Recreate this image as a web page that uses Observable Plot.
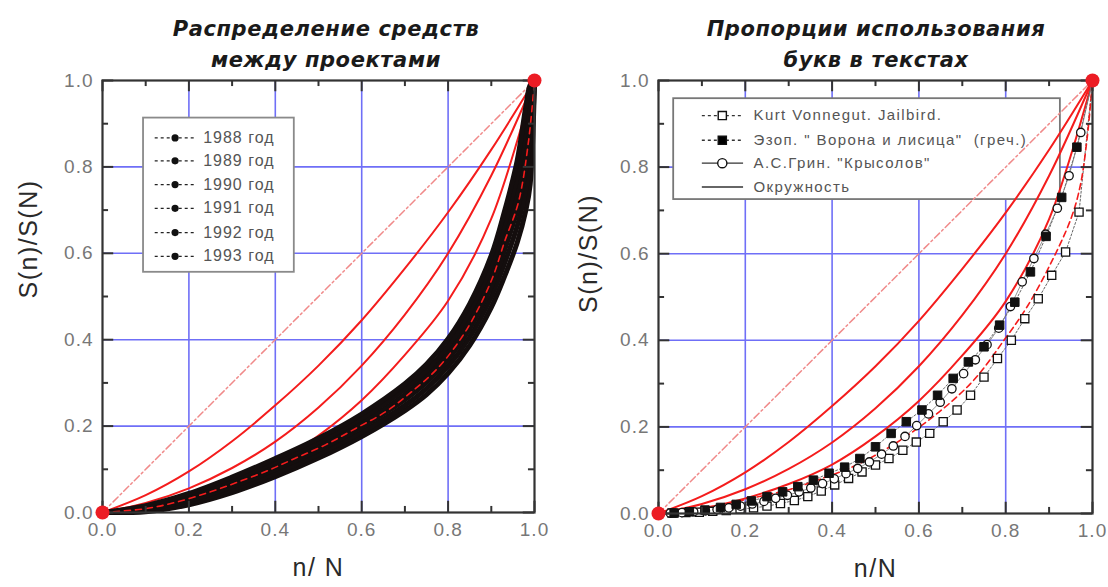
<!DOCTYPE html>
<html><head><meta charset="utf-8">
<script src="https://cdn.jsdelivr.net/npm/d3@7"></script>
<script src="https://cdn.jsdelivr.net/npm/@observablehq/plot@0.6"></script>
<style>
body{margin:0;background:#fff;width:1108px;height:587px;overflow:hidden;position:relative;font-family:"Liberation Sans",Arial,sans-serif}
.panel{position:absolute;top:0}
.title{position:absolute;font-family:"DejaVu Sans",sans-serif;font-weight:bold;font-style:italic;font-size:21px;letter-spacing:0.6px;color:#1a1a1a;text-align:center;line-height:31px;width:440px;white-space:nowrap}
svg text{white-space:pre}
</style></head><body>
<div id="left" class="panel" style="left:0"></div>
<div id="right" class="panel" style="left:554px"></div>
<div class="title" style="left:106px;top:14px">Распределение средств<br>между проектами</div>
<div class="title" style="left:656px;top:14px">Пропорции использования<br>букв в текстах</div>
<script>
// ---------- data ----------
const majorTicks = [0, 0.2, 0.4, 0.6, 0.8, 1.0];
const minorTicks = [0.1, 0.3, 0.5, 0.7, 0.9];
const gridTicks = [0.2, 0.4, 0.6, 0.8];
const tickLabels = ["0.0", "0.2", "0.4", "0.6", "0.8", "1.0"];

const diagN = [0, 1];
const diagS = [0, 1];
const endN = [0, 1];
const endS = [0, 1];

// three circle arcs ("Окружность")
const arcN  = [0, 0.1, 0.2, 0.3, 0.4, 0.5, 0.6, 0.7, 0.8, 0.9, 1.0];
const arc1S = [0, 0.040, 0.095, 0.165, 0.248, 0.340, 0.445, 0.565, 0.695, 0.840, 1.0];
const arc2S = [0, 0.022, 0.056, 0.103, 0.164, 0.243, 0.340, 0.458, 0.600, 0.780, 1.0];
const arc3S = [0, 0.012, 0.035, 0.068, 0.113, 0.178, 0.260, 0.365, 0.490, 0.680, 1.0];

// left panel: six yearly distributions (dense black band)
const years = ["1988 год", "1989 год", "1990 год", "1991 год", "1992 год", "1993 год"];
const bandN = [0, 0.1, 0.2, 0.3, 0.4, 0.5, 0.6, 0.7, 0.75, 0.8, 0.85, 0.9, 0.93, 0.96, 0.98, 0.99, 1];
const s1988 = [0, 0.002, 0.018, 0.046, 0.083, 0.126, 0.176, 0.236, 0.273, 0.322, 0.387, 0.475, 0.545, 0.625, 0.700, 0.760, 1];
const s1989 = [0, 0.005, 0.023, 0.053, 0.091, 0.135, 0.186, 0.248, 0.287, 0.338, 0.406, 0.499, 0.575, 0.663, 0.748, 0.812, 1];
const s1990 = [0, 0.008, 0.028, 0.060, 0.100, 0.144, 0.197, 0.261, 0.301, 0.354, 0.425, 0.523, 0.605, 0.701, 0.796, 0.864, 1];
const s1991 = [0, 0.010, 0.034, 0.068, 0.108, 0.154, 0.207, 0.273, 0.315, 0.370, 0.445, 0.547, 0.635, 0.739, 0.844, 0.916, 1];
const s1992 = [0, 0.013, 0.039, 0.075, 0.117, 0.163, 0.218, 0.286, 0.329, 0.386, 0.464, 0.571, 0.665, 0.777, 0.892, 0.968, 1];
const s1993 = [0, 0.016, 0.044, 0.082, 0.125, 0.172, 0.228, 0.298, 0.343, 0.402, 0.483, 0.595, 0.695, 0.815, 0.940, 0.990, 1];

// dashed red circle through the data
const fitLeftN  = [0, 0.1, 0.175, 0.25, 0.315, 0.385, 0.445, 0.515, 0.585, 0.655, 0.715, 0.775, 0.83, 0.87, 0.905, 0.93, 0.963, 0.986, 1];
const fitLeftS  = [0, 0.009, 0.025, 0.048, 0.071, 0.098, 0.125, 0.156, 0.194, 0.233, 0.279, 0.333, 0.403, 0.472, 0.549, 0.625, 0.719, 0.858, 1];
const fitRightN = [0, 0.1, 0.212, 0.3, 0.366, 0.465, 0.596, 0.719, 0.796, 0.849, 0.9, 0.95, 0.972, 0.988, 1];
const fitRightS = [0, 0.010, 0.035, 0.055, 0.077, 0.116, 0.196, 0.300, 0.400, 0.477, 0.570, 0.680, 0.758, 0.870, 1];

// right panel: letter usage
const seriesLabels = ["Kurt Vonnegut. Jailbird.", "Эзоп. \" Ворона и лисица\"  (греч.)", "А.С.Грин. \"Крысолов\"", "Окружность"];
const vonnegutN = [0.031,0.063,0.094,0.125,0.156,0.188,0.219,0.25,0.281,0.313,0.344,0.375,0.406,0.438,0.469,0.5,0.531,0.563,0.594,0.625,0.656,0.688,0.719,0.75,0.781,0.813,0.844,0.875,0.906,0.938,0.969,1];
const vonnegutS = [0.001,0.002,0.003,0.005,0.007,0.010,0.013,0.017,0.023,0.030,0.039,0.052,0.066,0.081,0.096,0.112,0.127,0.146,0.165,0.185,0.212,0.239,0.273,0.315,0.358,0.400,0.450,0.496,0.550,0.604,0.696,1];
const aesopN = [0.036,0.071,0.107,0.143,0.179,0.214,0.25,0.286,0.321,0.357,0.393,0.429,0.464,0.5,0.536,0.571,0.607,0.643,0.679,0.714,0.75,0.786,0.821,0.857,0.893,0.929,0.964,1];
const aesopS = [0.001,0.004,0.008,0.014,0.021,0.029,0.039,0.050,0.062,0.077,0.093,0.107,0.127,0.154,0.185,0.212,0.239,0.273,0.312,0.350,0.385,0.435,0.488,0.558,0.640,0.730,0.846,1];
const grinN = [0.027,0.054,0.081,0.108,0.135,0.162,0.189,0.216,0.243,0.270,0.297,0.324,0.351,0.378,0.405,0.432,0.459,0.486,0.514,0.541,0.568,0.595,0.622,0.649,0.676,0.703,0.730,0.757,0.784,0.811,0.838,0.865,0.892,0.919,0.946,0.973,1];
const grinS = [0.001,0.002,0.004,0.006,0.009,0.013,0.017,0.022,0.028,0.035,0.042,0.050,0.059,0.069,0.080,0.092,0.104,0.119,0.137,0.156,0.178,0.203,0.230,0.257,0.288,0.323,0.355,0.390,0.428,0.478,0.535,0.589,0.645,0.705,0.780,0.880,1];

// ---------- tables ----------
const pts = (N, S) => N.map((n, i) => ({n, s: S[i]}));
const arcTable = [arc1S, arc2S, arc3S].flatMap((S, k) => arcN.map((n, i) => ({k, n, s: S[i]})));
const bandS = [s1988, s1989, s1990, s1991, s1992, s1993];
const bandTable = years.flatMap((yr, k) => bandN.map((n, i) => ({yr, n, s: bandS[k][i]})));

// ---------- styles / layout ----------
const RED = "#f41c1c", GRID = "#6f6ff7", AX = "#333";
const tickLen = 0.026, minorLen = 0.014;

// text mark whose glyphs get a letter-spacing after rendering
function spacedText(data, opts, px) {
  return Plot.text(data, {...opts, render(index, scales, values, dimensions, context, next) {
    const g = next(index, scales, values, dimensions, context);
    if (g) g.querySelectorAll("text").forEach(t => t.style.letterSpacing = px + "px");
    return g;
  }});
}

function axesAndGrid() {
  return [
    Plot.ruleX(gridTicks, {stroke: GRID, strokeWidth: 1.6}),
    Plot.ruleY(gridTicks, {stroke: GRID, strokeWidth: 1.6}),
  ];
}
function frameMarks() {
  const st = {stroke: AX, strokeWidth: 2};
  return [
    Plot.frame({stroke: AX, strokeWidth: 2.2}),
    Plot.ruleY(majorTicks, {x1: 0, x2: tickLen, ...st}),
    Plot.ruleY(majorTicks, {x1: 1 - tickLen, x2: 1, ...st}),
    Plot.ruleX(majorTicks, {y1: 0, y2: tickLen, ...st}),
    Plot.ruleX(majorTicks, {y1: 1 - tickLen, y2: 1, ...st}),
    Plot.ruleY(minorTicks, {x1: 0, x2: minorLen, ...st}),
    Plot.ruleY(minorTicks, {x1: 1 - minorLen, x2: 1, ...st}),
    Plot.ruleX(minorTicks, {y1: 0, y2: minorLen, ...st}),
    Plot.ruleX(minorTicks, {y1: 1 - minorLen, y2: 1, ...st}),
    spacedText(tickLabels, {x: majorTicks, text: d => d, frameAnchor: "bottom", dy: 23, fontSize: 19, fill: "#777"}, 1),
    spacedText(tickLabels, {y: majorTicks, text: d => d, frameAnchor: "left", dx: -9, textAnchor: "end", fontSize: 19, fill: "#777"}, 1),
  ];
}
function curves() {
  return [
    Plot.line(pts(diagN, diagS), {x: "n", y: "s", stroke: "#f08a8a", strokeWidth: 1.5, strokeDasharray: "7,3,2,3"}),
    Plot.line(arcTable, {x: "n", y: "s", z: "k", stroke: RED, strokeWidth: 2, curve: "catmull-rom"}),
  ];
}
function endDots() {
  return [Plot.dot(pts(endN, endS), {x: "n", y: "s", r: 7, fill: "#ec1c24", stroke: "none"})];
}
function titles(xLabel, dxY, dyY) {
  return [
    spacedText([xLabel], {text: d => d, frameAnchor: "bottom", dy: 63, fontSize: 25, fill: "#2a2a2a"}, 1.5),
    spacedText(["S(n)/S(N)"], {text: d => d, frameAnchor: "left", dx: dxY, dy: dyY, rotate: -90, fontSize: 25, fill: "#2a2a2a"}, 1.5),
  ];
}
const baseStyle = {fontFamily: "'Liberation Sans', Arial, sans-serif", background: "white", overflow: "visible"};

// ---------- left panel ----------
const legLeftY = [0.867, 0.814, 0.759, 0.704, 0.648, 0.593];
const left = Plot.plot({
  width: 554, height: 587,
  marginLeft: 102, marginRight: 20, marginTop: 80, marginBottom: 75,
  x: {domain: [0, 1], axis: null},
  y: {domain: [0, 1], axis: null},
  style: baseStyle,
  marks: [
    ...axesAndGrid(),
    Plot.rect([0], {x1: 0.095, x2: 0.444, y1: 0.556, y2: 0.913, fill: "white", stroke: "#8a8a8a", strokeWidth: 1.8}),
    Plot.ruleY(years, {y: legLeftY, x1: 0.122, x2: 0.217, stroke: "#222", strokeWidth: 1.3, strokeDasharray: "3,3"}),
    Plot.dot(years, {x: 0.168, y: legLeftY, r: 3.6, fill: "#111"}),
    spacedText(years, {x: 0.233, y: legLeftY, text: d => d, textAnchor: "start", fontSize: 16, fill: "#555"}, 1.0),
    ...curves(),
    Plot.line(bandTable, {x: "n", y: "s", z: "yr", stroke: "#140e0e", strokeWidth: 5, curve: "catmull-rom"}),
    Plot.line(pts(fitLeftN, fitLeftS), {x: "n", y: "s", stroke: RED, strokeWidth: 1.6, strokeDasharray: "6,5", curve: "catmull-rom"}),
    ...frameMarks(),
    ...titles("n/ N", -74, 2),
    ...endDots(),
  ]
});
document.getElementById("left").appendChild(left);

// ---------- right panel ----------
const legRightY = [0.919, 0.862, 0.809, 0.754];
const legSym = [
  {x: 0.147, y: legRightY[0], sym: "square", fill: "white"},
  {x: 0.147, y: legRightY[1], sym: "square", fill: "black"},
  {x: 0.147, y: legRightY[2], sym: "circle", fill: "white"},
];
const right = Plot.plot({
  width: 554, height: 587,
  marginLeft: 104, marginRight: 16, marginTop: 80, marginBottom: 74,
  x: {domain: [0, 1], axis: null},
  y: {domain: [0, 1], axis: null},
  style: baseStyle,
  marks: [
    ...axesAndGrid(),
    Plot.rect([0], {x1: 0.035, x2: 0.926, y1: 0.725, y2: 0.958, fill: "white", stroke: "#777", strokeWidth: 1.8}),
    Plot.ruleY(seriesLabels.slice(0, 2), {y: legRightY.slice(0, 2), x1: 0.101, x2: 0.196, stroke: "#333", strokeWidth: 1.3, strokeDasharray: "3,3"}),
    Plot.ruleY(seriesLabels.slice(2), {y: legRightY.slice(2), x1: 0.101, x2: 0.196, stroke: "#333", strokeWidth: 1.3}),
    Plot.dot(legSym, {x: "x", y: "y", symbol: "sym", fill: "fill", stroke: "#111", strokeWidth: 1.4, r: 4.6}),
    spacedText(seriesLabels, {x: 0.219, y: legRightY, text: d => d, textAnchor: "start", fontSize: 15, fill: "#555"}, 1.4),
    ...curves(),
    Plot.line(pts(vonnegutN, vonnegutS), {x: "n", y: "s", stroke: "#666", strokeWidth: 1, strokeDasharray: "2,2"}),
    Plot.line(pts(aesopN, aesopS), {x: "n", y: "s", stroke: "#666", strokeWidth: 1, strokeDasharray: "2,2"}),
    Plot.line(pts(grinN, grinS), {x: "n", y: "s", stroke: "#777", strokeWidth: 0.8}),
    Plot.line(pts(fitRightN, fitRightS), {x: "n", y: "s", stroke: RED, strokeWidth: 1.6, strokeDasharray: "6,4", curve: "catmull-rom"}),
    Plot.dot(pts(vonnegutN, vonnegutS), {x: "n", y: "s", symbol: "square", r: 4.6, fill: "white", stroke: "#111", strokeWidth: 1.3}),
    Plot.dot(pts(grinN, grinS), {x: "n", y: "s", symbol: "circle", r: 4.2, fill: "white", stroke: "#111", strokeWidth: 1.3}),
    Plot.dot(pts(aesopN, aesopS), {x: "n", y: "s", symbol: "square", r: 4.8, fill: "#111", stroke: "#111", strokeWidth: 1}),
    ...frameMarks(),
    ...titles("n/N", -70, 16),
    ...endDots(),
  ]
});
document.getElementById("right").appendChild(right);
</script>
</body></html>
